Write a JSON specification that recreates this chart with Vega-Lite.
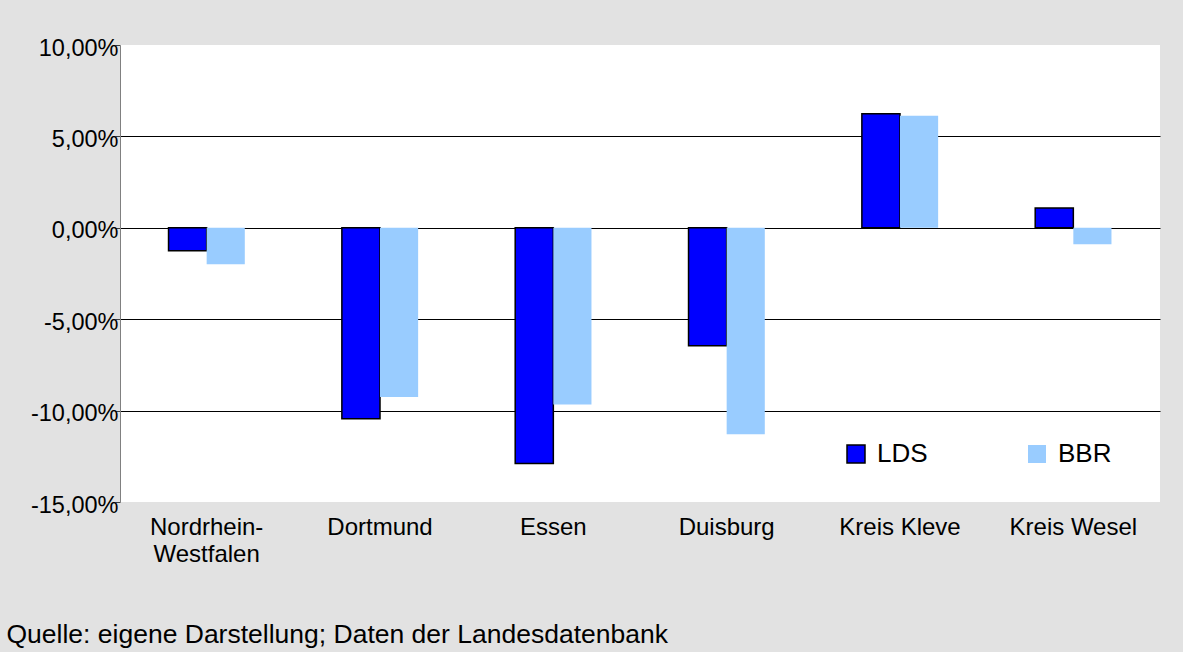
{
  "$schema": "https://vega.github.io/schema/vega-lite/v6.json",
  "width": 1040,
  "height": 457,
  "autosize": {"type": "none"},
  "padding": {"left": 120, "top": 45, "right": 23, "bottom": 150},
  "background": "#e2e2e2",
  "config": {
    "view": {"fill": "white", "stroke": null},
    "font": "Liberation Sans"
  },
  "title": {
    "text": "Quelle: eigene Darstellung; Daten der Landesdatenbank",
    "orient": "bottom",
    "anchor": "start",
    "frame": "bounds",
    "fontSize": 26.5,
    "fontWeight": "normal",
    "color": "black",
    "offset": 56,
    "dx": -24
  },
  "data": {
    "values": [
      {"region": "Nordrhein-Westfalen", "series": "LDS", "value": -1.26},
      {"region": "Nordrhein-Westfalen", "series": "BBR", "value": -2.0},
      {"region": "Dortmund", "series": "LDS", "value": -10.45},
      {"region": "Dortmund", "series": "BBR", "value": -9.25},
      {"region": "Essen", "series": "LDS", "value": -12.9},
      {"region": "Essen", "series": "BBR", "value": -9.67},
      {"region": "Duisburg", "series": "LDS", "value": -6.45},
      {"region": "Duisburg", "series": "BBR", "value": -11.3},
      {"region": "Kreis Kleve", "series": "LDS", "value": 6.24},
      {"region": "Kreis Kleve", "series": "BBR", "value": 6.13},
      {"region": "Kreis Wesel", "series": "LDS", "value": 1.08},
      {"region": "Kreis Wesel", "series": "BBR", "value": -0.9}
    ]
  },
  "mark": {"type": "bar", "strokeWidth": 1.5},
  "encoding": {
    "x": {
      "field": "region",
      "type": "nominal",
      "sort": null,
      "scale": {"paddingInner": 0.56, "paddingOuter": 0.28},
      "axis": {
        "title": null,
        "ticks": false,
        "domain": false,
        "grid": false,
        "labelAngle": 0,
        "labelFontSize": 24,
        "labelColor": "black",
        "labelPadding": 13,
        "labelBaseline": "top",
        "labelLineHeight": 27,
        "labelLimit": 0,
        "labelExpr": "datum.value == 'Nordrhein-Westfalen' ? ['Nordrhein-', 'Westfalen'] : datum.value"
      }
    },
    "xOffset": {"field": "series", "type": "nominal", "sort": ["LDS", "BBR"]},
    "y": {
      "field": "value",
      "type": "quantitative",
      "scale": {"domain": [-15, 10], "nice": false, "zero": false},
      "axis": {
        "title": null,
        "values": [10, 5, 0, -5, -10, -15],
        "labelExpr": "(datum.value < 0 ? '-' : '') + replace(format(abs(datum.value), '.2f'), '.', ',') + '%'",
        "labelFontSize": 23.5,
        "labelColor": "black",
        "labelPadding": -3,
        "labelOffset": 3,
        "tickSize": 5,
        "tickColor": "#404040",
        "domainColor": "#808080",
        "grid": true,
        "gridColor": "black",
        "gridWidth": 1,
        "gridOpacity": {"condition": {"test": "datum.value == 10 || datum.value == -15", "value": 0}, "value": 1}
      }
    },
    "fill": {
      "field": "series",
      "type": "nominal",
      "scale": {"domain": ["LDS", "BBR"], "range": ["#0000ff", "#99ccff"]},
      "legend": {
        "title": null,
        "orient": "none",
        "legendX": 723,
        "legendY": 396,
        "direction": "horizontal",
        "symbolType": "square",
        "symbolSize": 324,
        "labelFontSize": 26,
        "labelColor": "black",
        "labelOffset": 8,
        "columnPadding": 96
      }
    },
    "stroke": {
      "field": "series",
      "type": "nominal",
      "scale": {"domain": ["LDS", "BBR"], "range": ["#000000", "transparent"]}
    }
  }
}
